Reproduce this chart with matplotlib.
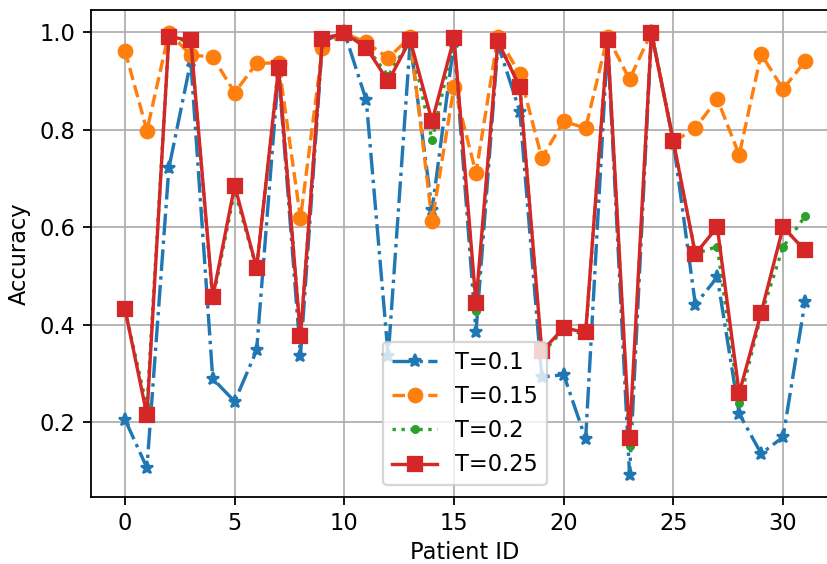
import numpy as np
import matplotlib; matplotlib.use('Agg')
import matplotlib.pyplot as plt

DPI = 162

patients = np.arange(32)

acc_t010 = [0.205, 0.106, 0.721, 0.94, 0.289, 0.242, 0.347, 0.92,
            0.336, 0.98, 1.0, 0.860, 0.335, 0.98, 0.635, 0.98,
            0.384, 0.975, 0.837, 0.292, 0.297, 0.165, 0.98, 0.092,
            1.0, 0.775, 0.441, 0.497, 0.217, 0.135, 0.169, 0.447]
acc_t015 = [0.962, 0.798, 0.999, 0.953, 0.949, 0.876, 0.936, 0.937,
            0.618, 0.967, 0.998, 0.979, 0.947, 0.99, 0.612, 0.888,
            0.711, 0.991, 0.914, 0.742, 0.817, 0.803, 0.991, 0.903,
            1.0, 0.775, 0.803, 0.863, 0.748, 0.955, 0.883, 0.940]
acc_t020 = [0.43, 0.23, 0.99, 0.98, 0.45, 0.675, 0.515, 0.93,
            0.375, 0.985, 1.0, 0.97, 0.91, 0.985, 0.778, 0.985,
            0.427, 0.98, 0.89, 0.34, 0.39, 0.38, 0.985, 0.15,
            1.0, 0.775, 0.545, 0.560, 0.239, 0.42, 0.559, 0.622]
acc_t025 = [0.432, 0.214, 0.991, 0.983, 0.456, 0.685, 0.516, 0.926,
            0.376, 0.986, 0.998, 0.968, 0.899, 0.984, 0.817, 0.988,
            0.444, 0.981, 0.887, 0.345, 0.393, 0.384, 0.984, 0.167,
            0.998, 0.776, 0.545, 0.600, 0.259, 0.424, 0.600, 0.552]

fig = plt.figure(figsize=(828 / DPI, 564 / DPI), dpi=DPI)
# axes run slightly past the right edge of the canvas
ax = fig.add_axes([0.1099, 0.1193, 0.9034, 0.8629])

ax.plot(patients, acc_t010, '*-.', label='T=0.1')
ax.plot(patients, acc_t015, 'o--', label='T=0.15')
ax.plot(patients, acc_t020, '.:', label='T=0.2')
ax.plot(patients, acc_t025, 's-', label='T=0.25')

ax.set_xlabel('Patient ID', labelpad=2.5)
ax.set_ylabel('Accuracy')
ax.grid(True)
ax.legend(loc='lower center')

fig.savefig('out.png', dpi=DPI)
